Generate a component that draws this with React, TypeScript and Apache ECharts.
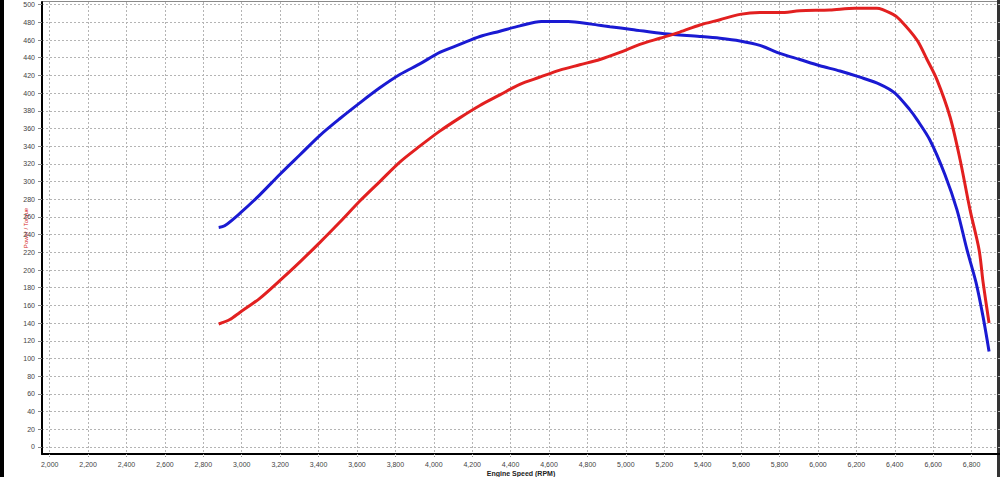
import React, { useEffect, useRef } from "react";
import * as echarts from "echarts";

// Blue curve (rpm, value)
const blueRpm = [2880, 2911, 2990, 3094, 3198, 3302, 3406, 3510, 3615, 3719, 3823, 3927, 4031, 4135, 4240, 4344, 4448, 4560, 4700, 4820, 4917, 5030, 5200, 5385, 5490, 5594, 5698, 5802, 5906, 6010, 6115, 6219, 6323, 6401, 6479, 6516, 6583, 6661, 6724, 6776, 6823, 6860, 6891];
const blueVal = [248, 250, 264, 285, 308, 330, 352, 371, 389, 406, 421, 433, 446, 455, 464, 470, 476, 481, 481, 478, 475, 472, 467, 464, 462, 459, 454, 445, 438, 431, 425, 418, 410, 400, 381, 370, 347, 308, 268, 223, 186, 147, 108];

// Red curve (rpm, value)
const redRpm = [2880, 2938, 2990, 3094, 3198, 3302, 3406, 3510, 3615, 3719, 3823, 3927, 4031, 4135, 4240, 4344, 4448, 4552, 4656, 4760, 4865, 4969, 5073, 5177, 5281, 5385, 5490, 5594, 5698, 5802, 5906, 6062, 6193, 6307, 6391, 6427, 6516, 6568, 6620, 6688, 6740, 6792, 6839, 6860, 6891];
const redVal = [139, 144, 152, 168, 188, 209, 231, 254, 278, 300, 322, 340, 357, 372, 386, 398, 410, 418, 426, 432, 438, 446, 455, 462, 469, 477, 483, 489, 491, 491, 493, 494, 496, 496, 489, 483, 460, 438, 415, 373, 325, 268, 223, 186, 140];

// Tick labels
const xTicks = [2000, 2200, 2400, 2600, 2800, 3000, 3200, 3400, 3600, 3800, 4000, 4200, 4400, 4600, 4800, 5000, 5200, 5400, 5600, 5800, 6000, 6200, 6400, 6600, 6800];
const yTicks = [0, 20, 40, 60, 80, 100, 120, 140, 160, 180, 200, 220, 240, 260, 280, 300, 320, 340, 360, 380, 400, 420, 440, 460, 480, 500];

const xTitle = "Engine Speed (RPM)";
const yTitle = "Power / Torque";

const fmt = (v: number) => v.toLocaleString("en-US");

export default function App() {
  const ref = useRef<HTMLDivElement>(null);
  useEffect(() => {
    if (!ref.current) return;
    const chart = echarts.init(ref.current, null, { renderer: "svg" });
    const gridLine = { show: true, lineStyle: { color: "#b4b4b4", width: 1, type: [2, 2] as any } };
    chart.setOption({
      animation: false,
      backgroundColor: "#ffffff",
      grid: { left: 42, right: 0, top: 2, bottom: 23, containLabel: false, outerBoundsMode: "none", show: false },
      xAxis: {
        type: "value",
        min: 1960,
        max: 6948,
        name: xTitle,
        nameLocation: "middle",
        nameGap: 16,
        nameMoveOverlap: false,
        nameTextStyle: { fontSize: 7, fontWeight: "bold", color: "#222", fontFamily: "Liberation Sans, Arial" },
        axisLine: { show: true, onZero: false, lineStyle: { color: "#000", width: 2 } },
        axisTick: { show: true, customValues: xTicks, length: 3, lineStyle: { color: "#999", type: "dotted" } },
        axisLabel: {
          customValues: xTicks,
          formatter: (v: number) => fmt(v),
          fontSize: 7,
          color: "#444",
          margin: 7,
          fontFamily: "Liberation Sans, Arial",
        },
        splitLine: gridLine,
      },
      yAxis: {
        type: "value",
        min: -8,
        max: 503,
        name: yTitle,
        nameLocation: "middle",
        nameRotate: 90,
        nameGap: 13,
        nameMoveOverlap: false,
        nameTextStyle: { fontSize: 6, color: "#d42020", fontFamily: "Liberation Sans, Arial" },
        axisLine: { show: true, onZero: false, lineStyle: { color: "#000", width: 2 } },
        axisTick: { show: true, customValues: yTicks, length: 4, lineStyle: { color: "#888" } },
        axisLabel: {
          customValues: yTicks,
          fontSize: 7,
          color: "#444",
          margin: 7,
          fontFamily: "Liberation Sans, Arial",
        },
        splitLine: gridLine,
      },
      graphic: [
        { type: "rect", left: 0, top: 0, shape: { width: 4, height: 477 }, style: { fill: "#000" } },
        { type: "rect", left: 42, top: 1, shape: { width: 958, height: 1 }, style: { fill: "#8a8a8a" } },
        { type: "rect", left: 997, top: 0, shape: { width: 3, height: 477 }, style: { fill: "#333" } },
      ],
      series: [
        {
          type: "line",
          data: blueRpm.map((r, i) => [r, blueVal[i]]),
          smooth: 0.3,
          showSymbol: false,
          lineStyle: { color: "#1a1ad2", width: 3 },
          itemStyle: { color: "#1a1ad2" },
        },
        {
          type: "line",
          data: redRpm.map((r, i) => [r, redVal[i]]),
          smooth: 0.3,
          showSymbol: false,
          lineStyle: { color: "#e22020", width: 3 },
          itemStyle: { color: "#e22020" },
        },
      ],
    });
    return () => chart.dispose();
  }, []);
  return (
    <div
      ref={ref}
      style={{ position: "fixed", left: 0, top: 0, width: 1000, height: 477, background: "#fff" }}
    />
  );
}
